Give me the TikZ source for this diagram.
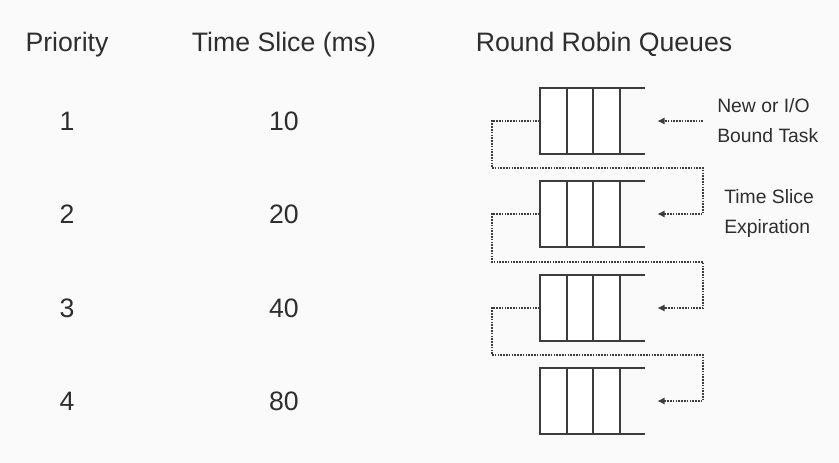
\documentclass[tikz,border=0pt]{standalone}
\usepackage{fontspec}
\setmainfont{Liberation Sans}
\usetikzlibrary{arrows.meta}
\definecolor{bgc}{HTML}{FAFAFA}
\definecolor{ink}{HTML}{2E2E2E}
\definecolor{edge}{HTML}{3C3C3C}

\begin{document}
\begin{tikzpicture}[x=0.75pt,y=-0.75pt,
   big/.style   = {font=\fontsize{20}{24}\selectfont, text=ink, inner sep=0pt},
   small/.style = {font=\fontsize{14.5}{22.5}\selectfont, text=ink, inner sep=0pt, align=left, anchor=west},
   queue/.style = {minimum width=78.75pt, minimum height=49.5pt, inner sep=0pt},
   link/.style  = {draw=edge, dash pattern=on 1.2pt off 0.9pt, line width=1.5pt},
   tip/.style   = {-{Latex[length=5.5pt,width=5.5pt]}}]
   \useasboundingbox[fill=bgc] (0,0) rectangle (839,463);
   \node[big, anchor=base] (hprio)  at (67,52)  {Priority};
   \node[big, anchor=base] (hslice) at (284,52) {Time Slice (ms)};
   \node[big, anchor=base] (hqueue) at (604,52) {Round Robin Queues};
   \foreach \i/\y/\t in {1/121/10, 2/214/20, 3/308/40, 4/401/80}{
      \node[big] (p\i) at (67,\y)  {\i};
      \node[big] (s\i) at (284,\y) {\t};
      \node[queue] (q\i) at (592.5,\y) {};
      \fill[white] (q\i.north west) rectangle ([xshift=-18.75pt]q\i.south east);
      \draw[edge, line width=1.4pt] (q\i.north east) -- (q\i.north west) -- (q\i.south west) -- (q\i.south east);
      \foreach \k in {27,53,80}
         \draw[edge, line width=1.4pt] ([xshift=\k*0.75pt]q\i.north west) -- ([xshift=\k*0.75pt]q\i.south west);
      \coordinate (in\i) at ([xshift=9pt]q\i.east);
   }
   \coordinate (t1) at (703,168);
   \coordinate (t2) at (703,262);
   \coordinate (t3) at (703,355);
   \coordinate (src) at (703,121);
   \draw[link, tip] (src) -- (in1);
   \foreach \i/\j in {1/2, 2/3, 3/4}
      \draw[link, tip] (q\i.west) -- ++(-48,0) |- (t\i) |- (in\j);
   \node[small] (lnew)  at (717,121) {New or I/O\\Bound Task};
   \node[small] (lexp)  at (724,214) {Time Slice\\Expiration};
\end{tikzpicture}
\end{document}
